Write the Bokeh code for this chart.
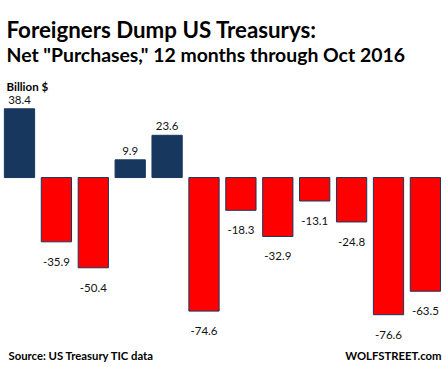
from bokeh.plotting import figure
from bokeh.models import ColumnDataSource, Range1d, Label
from bokeh.core.properties import value
from bokeh.embed import file_html
from bokeh.resources import INLINE

# ---- data ----
values = [38.4, -35.9, -50.4, 9.9, 23.6, -74.6, -18.3, -32.9, -13.1, -24.8, -76.6, -63.5]
title1 = "Foreigners Dump US Treasurys:"
title2 = 'Net "Purchases," 12 months through Oct 2016'
unit_label = "Billion $"
source_label = "Source: US Treasury TIC data"
brand_label = "WOLFSTREET.com"

POS = "#17375E"
NEG = "#FF0000"
EDGE = "#17375E"
FONT = "Lato"

idx = list(range(len(values)))
src = ColumnDataSource(dict(
    x=idx,
    top=[max(v, 0) for v in values],
    bottom=[min(v, 0) for v in values],
    val=values,
    lab=[f"{v:.1f}" for v in values],
    color=[POS if v >= 0 else NEG for v in values],
    yoff=[-9 if v >= 0 else 20 for v in values],
))

W, H = 446, 367
p = figure(width=W, height=H, x_range=Range1d(-0.515, 11.572), y_range=Range1d(-106.1, 98.9),
           output_backend="svg", toolbar_location=None, min_border=0)
p.axis.visible = False
p.grid.visible = False
p.outline_line_color = None
p.background_fill_color = "white"
p.border_fill_color = "white"

p.vbar(x="x", top="top", bottom="bottom", width=0.82, source=src,
       fill_color="color", line_color=EDGE, line_width=1)

p.text(x="x", y="val", text="lab", y_offset="yoff", source=src,
       text_align="center", text_baseline="alphabetic",
       text_font=value(FONT), text_font_size="11.5px", text_color="#111111")

def lab(text, x, y, size, bold=True, align="left"):
    p.add_layout(Label(x=x, y=H - y, x_units="screen", y_units="screen", text=text,
                       text_font=FONT, text_font_size=size,
                       text_font_style="bold" if bold else "normal",
                       text_align=align, text_baseline="alphabetic", text_color="#000000"))

lab(title1, 6, 29, "22.3px")
lab(title2, 6, 54, "19.4px")
lab(unit_label, 6, 85.5, "11.5px")
lab(source_label, 8, 355, "11.3px")
lab(brand_label, 441, 355, "11.3px", align="right")

open("out.html", "w").write(file_html(p, INLINE))
